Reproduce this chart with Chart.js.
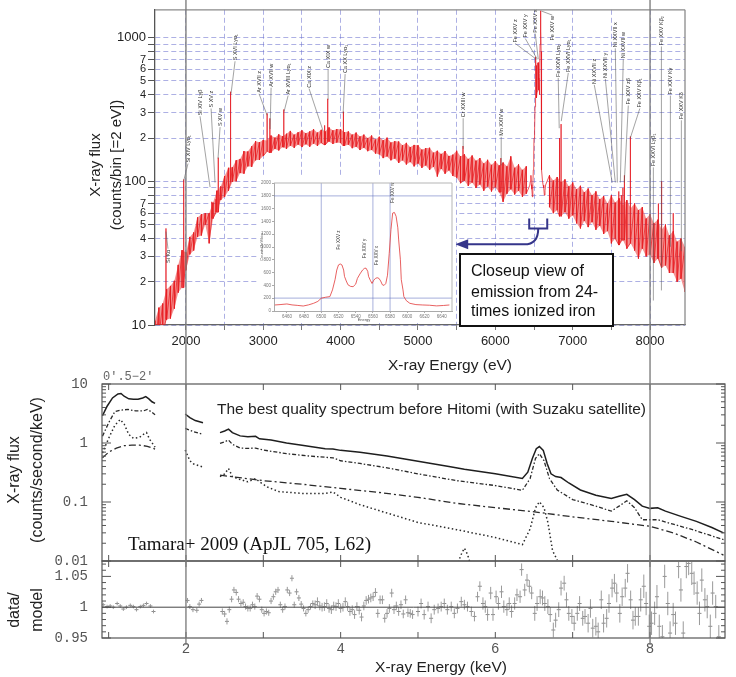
<!DOCTYPE html>
<html>
<head>
<meta charset="utf-8">
<script src="https://cdn.jsdelivr.net/npm/chart.js@4.4.0/dist/chart.umd.min.js"></script>
<style>
  html, body { margin: 0; padding: 0; background: #fff; }
  #wrap { position: relative; width: 736px; height: 677px; overflow: hidden; background: #fff; }
  #wrap canvas { position: absolute; left: 0; top: 0; }
</style>
</head>
<body>
<div id="wrap">
  <canvas id="cMid" width="736" height="677" style="z-index:1"></canvas>
  <canvas id="cRes" width="736" height="677" style="z-index:1"></canvas>
  <canvas id="cTop" width="736" height="677" style="z-index:2"></canvas>
  <canvas id="cInset" width="736" height="677" style="z-index:3"></canvas>
</div>
<script>
// ---------------- Hitomi SXS spectrum (counts per 2 eV bin) ----------------
// Continuum band sampled every 50 eV: upper and lower edge of the noisy band
const bandEnergy = [1600,1650,1700,1750,1800,1850,1900,1950,
  2000,2050,2100,2150,2200,2250,2300,2350,2400,2450,2500,2550,2600,2650,2700,2750,2800,2850,2900,2950,
  3000,3050,3100,3150,3200,3250,3300,3350,3400,3450,3500,3550,3600,3650,3700,3750,3800,3850,3900,3950,
  4000,4050,4100,4150,4200,4250,4300,4350,4400,4450,4500,4550,4600,4650,4700,4750,4800,4850,4900,4950,
  5000,5050,5100,5150,5200,5250,5300,5350,5400,5450,5500,5550,5600,5650,5700,5750,5800,5850,5900,5950,
  6000,6050,6100,6150,6200,6250,6300,6350,6400,
  6700,6750,6800,6850,6900,6950,7000,7050,7100,7150,7200,7250,7300,7350,7400,7450,
  7500,7550,7600,7650,7700,7750,7800,7850,7900,7950,8000,8050,8100,8150,8200,8250,8300,8350,8400,8450];
const bandUpper = [10.7,13.2,14.1,17.7,18.7,20.3,26.2,33.2,
  32,41,44,56,59,60,60,71,86,92,109,124,125,140,143,162,161,175,190,187,
  194,192,208,201,212,206,214,224,211,219,226,216,222,230,218,228,222,237,226,231,
  230,219,222,211,218,205,211,200,208,195,204,193,201,186,190,189,178,185,173,179,
  178,166,170,171,158,163,155,162,150,153,163,149,154,143,151,139,145,133,141,130,
  138,129,135,127,149,124,131,120,127,
  110,101,107,99,103,92,98,88,93,84,89,80,85,75,79,70,
  80,71,76,68,74,65,70,63,66,55,59,51,54,46,50,42,45,38,40,35];
const bandLower = [6.4,8.3,8.7,10.9,11.1,13,16.8,18.2,
  24,31,33,41,42,50,37,55,61,74,78,86,99,100,114,113,127,126,140,141,
  150,162,158,168,164,173,168,177,171,180,173,181,174,183,176,185,179,189,182,186,
  185,176,180,170,174,165,171,162,165,156,154,145,149,140,144,134,140,131,136,127,
  133,124,129,120,126,108,122,113,119,109,106,97,101,93,98,90,95,86,92,85,
  91,84,72,82,88,81,86,78,82,
  66,60,63,57,61,55,58,51,47,53,48,52,46,49,43,45,
  37,40,36,39,34,37,33,29,34,30,31,27,29,25,26,23,23,20,21,17];

// Narrow emission lines rising above the band (observed energy, eV)
const lineEnergy = [1742,1971,2334,2387,2418,2577,3049,3085,3265,3793,3833,4036,5582,6071,
  6830,6850,7596,7629,7649,7669,7742,8108,8149,8300];
const linePeak = [47,103,72,75,146,420,297,274,316,245,375,305,176,145,
  200,250,85,80,90,110,205,70,100,60];

// Fe XXV He-alpha complex, 2 eV bins (shown in the close-up and in the full spectrum)
const feEnergy = [6446,6452,6460,6466,6472,6479,6485,6491,6496,6500,6505,6510,6513,6516,6518,6520,6522,6524,6526,6527,
  6529,6531,6534,6537,6540,6542,6545,6548,6550,6552,6554,6555,6557,6559,6561,6563,6565,6567,6569,6571,
  6573,6575,6577,6579,6581,6583,6585,6587,6589,6590,6592,6593,6595,6596,6599,6603,6610,6618,6626,6634,6642,6649];
const feCounts = [94,100,110,95,88,78,95,120,150,200,215,225,330,490,640,720,735,720,640,540,
  470,410,385,380,420,510,580,640,665,670,620,540,480,430,480,510,520,510,470,410,
  400,430,560,900,1270,1530,1540,1480,1300,1110,800,490,330,225,160,120,100,94,90,80,86,94];

// Line identifications
const lineNames = ['Si K\u03b1','Si XIV Ly\u03b1\u2081','Si XIV Ly\u03b2','S XV z','S XV w','S XVI Ly\u03b1\u2081',
  'Ar XVII z','Ar XVII w','Ar XVIII Ly\u03b1\u2081','Ca XIX z','Ca XIX w','Ca XX Ly\u03b1\u2081',
  'Cr XXIII w','Mn XXIV w','Fe XXV z','Fe XXV y','Fe XXV x','Fe XXV w',
  'Fe XXVI Ly\u03b1\u2082','Fe XXVI Ly\u03b1\u2081','Ni XXVII z','Ni XXVII y','Ni XXVII x','Ni XXVII w',
  'Fe XXV z\u03b2','Fe XXV K\u03b2\u2081','Fe XXVI Ly\u03b2\u2081','Fe XXV K\u03b2\u2082','Fe XXV K\u03b3','Fe XXV K\u03b4'];

// Axis ticks
const energyTickValues = [2000,2500,3000,3500,4000,4500,5000,5500,6000,6500,7000,7500,8000];
const fluxTickValues = [10,20,30,40,50,60,70,80,90,100,200,300,400,500,600,700,800,900,1000];
const insetEnergyTicks = [6460,6480,6500,6520,6540,6560,6580,6600,6620,6640];
const insetCountTicks = [0,200,400,600,800,1000,1200,1400,1600,1800,2000];
const insetGuideEnergies = [6500,6560,6580];
const insetGuideCounts = [200,1800];
const insetLineNames = ['Fe XXV z','Fe XXV y','Fe XXV x','Fe XXV w'];
const insetLineEnergy = [6520,6550,6564,6583];

// ---------------- Suzaku XIS spectrum, 0.5'-2' region ----------------
const totalE = [0.92,0.98,1.05,1.12,1.16,1.2,1.26,1.32,1.38,1.44,1.48,1.52,1.56,1.6, 1.8,
  1.99,2.05,2.12,2.22, 2.3,
  2.44,2.5,2.55,2.6,2.7,2.8,2.9,2.95,3.1,3.3,3.5,3.8,3.9,4.0,4.25,4.6,5.0,5.4,5.6,6.0,
  6.35,6.42,6.48,6.53,6.57,6.62,6.67,6.72,6.78,6.85,6.95,7.1,7.3,7.5,7.6,7.7,7.8,7.9,8.0,8.1,
  8.2,8.4,8.6,8.8,8.95];
const totalFlux = [2.9,4.2,5.8,6.8,6.9,6.2,5.6,5.5,5.5,5.8,6.1,5.6,5.0,4.7, null,
  3.1,2.7,2.4,2.2, null,
  1.5,1.6,1.72,1.5,1.32,1.28,1.3,1.18,1.12,1.0,0.92,0.8,0.79,0.75,0.7,0.6,0.49,0.4,0.36,0.3,
  0.25,0.32,0.55,0.8,0.87,0.75,0.45,0.3,0.27,0.26,0.21,0.16,0.13,0.115,0.125,0.135,0.11,0.085,0.078,0.08,
  0.07,0.057,0.047,0.037,0.03];
const hotE = [0.92,1.0,1.08,1.15,1.25,1.35,1.45,1.5,1.55,1.6, 1.8,
  1.99,2.1,2.22, 2.3,
  2.44,2.5,2.55,2.6,2.7,2.8,2.9,3.0,3.3,3.6,3.9,4.0,4.25,4.6,5.0,5.5,6.0,6.35,6.45,6.52,
  6.57,6.63,6.7,6.8,7.0,7.3,7.5,7.6,7.7,7.8,7.9,8.0,8.1,8.3,8.55,8.95];
const hotFlux = [1.3,2.2,3.4,3.6,3.7,3.5,3.5,3.7,3.4,3.0, null,
  1.77,1.55,1.4, null,
  0.99,1.05,1.12,0.95,0.82,0.81,0.82,0.76,0.66,0.6,0.56,0.5,0.45,0.38,0.3,0.23,0.19,0.158,0.25,0.55,
  0.66,0.5,0.25,0.16,0.11,0.085,0.07,0.085,0.105,0.08,0.05,0.05,0.05,0.042,0.034,0.023];
const coolE = [0.92,1.0,1.08,1.15,1.2,1.26,1.32,1.4,1.45,1.49,1.53,1.6, 1.8,
  1.99,2.05,2.1,2.22, 2.3,
  2.44,2.5,2.55,2.6,2.7,2.8,2.9,2.95,3.05,3.2,3.5,3.8,3.9,4.0,4.25,4.6,5.0,5.5,6.0,6.35,
  6.45,6.52,6.57,6.63,6.68,6.74,6.8];
const coolFlux = [0.68,1.2,2.0,2.5,2.1,1.4,1.2,1.25,1.4,1.5,1.15,0.85, null,
  0.76,0.5,0.44,0.39, null,
  0.27,0.3,0.37,0.27,0.24,0.22,0.25,0.22,0.18,0.15,0.14,0.14,0.148,0.12,0.09,0.065,0.045,0.034,0.025,0.019,
  0.035,0.08,0.101,0.08,0.045,0.015,0.0104];
const powE = [0.92,1.0,1.1,1.2,1.3,1.4,1.5,1.6, 2.0,
  2.44,3.0,3.5,4.0,4.5,5.0,5.5,6.0,6.47,7.0,7.5,8.0,8.3,8.6,8.95];
const powFlux = [0.56,0.7,0.82,0.9,0.92,0.92,0.88,0.79, null,
  0.285,0.23,0.2,0.17,0.145,0.12,0.095,0.08,0.069,0.056,0.047,0.0387,0.03,0.021,0.0126];
const crE = [5.52,5.56,5.6,5.64,5.67];
const crFlux = [0.0095,0.013,0.0165,0.013,0.0095];

// data/model residuals
const resE = [0.93,0.98,1.02,1.06,1.11,1.15,1.19,1.23,1.28,1.32,1.36,1.41,1.45,1.49,1.54,1.58,
  2.02,2.05,2.09,2.14,2.17,2.20,
  2.47,2.50,2.53,2.56,2.59,2.62,2.65,2.68,2.71,2.74,2.77,2.80,2.83,2.86,2.89,2.92,2.95,2.98,3.01,3.04,
  3.07,3.10,3.13,3.16,3.19,3.22,3.25,3.28,3.31,3.34,3.37,3.40,3.43,3.46,3.49,3.52,3.55,3.58,3.61,3.64,
  3.67,3.70,3.73,3.76,3.79,3.82,3.85,3.88,3.91,3.94,3.97,4.00,4.03,4.06,4.09,4.12,4.15,4.18,4.21,4.24,
  4.27,4.30,4.33,4.36,4.39,4.42,4.45,4.48,4.51,4.54,4.57,4.60,4.63,4.66,4.69,4.72,4.75,4.78,4.81,4.84,
  4.87,4.90,4.93,
  5.00,5.04,5.08,5.13,5.17,5.21,5.26,5.30,5.34,5.38,5.43,5.47,5.51,5.56,5.60,5.64,5.69,5.73,5.77,5.80,
  5.84,5.87,5.90,5.94,5.97,6.01,6.04,6.08,6.11,6.15,6.18,6.21,6.25,6.28,6.32,6.34,6.38,6.41,6.44,6.47,
  6.51,6.54,6.58,6.61,6.64,6.68,6.71,6.75,6.78,6.82,6.85,6.89,6.92,6.95,6.99,7.02,7.06,7.09,7.13,7.16,
  7.20,7.23,7.26,7.30,7.33,7.37,7.40,7.44,7.47,7.51,7.54,7.57,7.61,7.64,7.68,7.71,7.75,7.78,7.81,7.85,
  7.88,7.92,7.95,7.99,8.02,8.06,8.09,8.12,8.16,8.19,8.23,8.26,8.30,8.33,8.37,8.40,8.43,8.47,8.50,8.54,
  8.57,8.61,8.64,8.67,8.71,8.74,8.78,8.81,8.85,8.89];
const resRatio = [1.004,1.001,1.002,1.000,1.006,1.002,0.997,1.000,1.003,1.001,0.996,1.001,1.003,1.006,1.002,0.993,
  1.011,1.001,0.996,0.995,1.005,1.011,
  0.993,0.989,0.977,0.996,1.013,1.028,1.024,1.013,1.006,1.008,1.001,0.998,0.998,1.004,1.001,1.018,1.013,0.996,0.990,0.993,
  0.991,1.010,1.017,1.025,1.028,1.004,0.996,1.001,1.028,1.023,1.047,1.004,1.025,1.015,1.005,0.998,0.990,0.996,1.001,1.006,
  1.004,1.009,1.002,1.000,1.001,1.006,0.998,0.996,1.002,1.001,1.006,0.998,1.000,1.009,1.001,0.993,0.996,0.988,1.001,0.995,
  0.984,1.002,1.011,1.013,1.015,1.017,1.024,0.990,1.012,1.012,0.982,0.990,0.998,1.023,0.996,1.002,0.993,1.004,0.989,1.012,
  0.991,0.990,0.988,
  0.993,1.006,0.988,1.001,0.982,0.996,0.998,1.001,1.006,0.996,1.001,0.990,0.998,1.009,1.004,1.001,0.993,0.985,1.017,1.034,
  1.006,1.001,0.988,1.023,0.988,1.017,1.006,1.025,1.001,0.996,1.006,0.993,1.006,1.020,1.017,1.061,1.028,1.044,1.034,1.023,
  0.990,1.006,1.017,1.015,1.006,1.001,0.988,0.963,0.979,0.996,1.031,1.039,1.012,0.990,0.985,0.974,0.990,1.006,0.982,0.985,
  0.974,0.998,0.966,0.969,0.960,1.012,0.974,0.982,1.006,1.031,1.039,1.023,0.990,1.017,1.031,1.055,1.012,0.979,0.985,0.985,
  1.012,1.034,1.006,0.969,0.974,0.990,1.017,0.969,0.952,1.050,1.006,0.958,0.988,0.974,1.066,1.028,0.958,1.066,1.071,1.055,
  1.039,1.023,0.990,1.044,1.012,1.001,0.969,1.023,1.001,0.952];
const resErr = [0.003,0.003,0.003,0.003,0.003,0.003,0.003,0.003,0.003,0.003,0.003,0.003,0.003,0.003,0.003,0.003,
  0.004,0.004,0.004,0.004,0.004,0.004,
  0.005,0.005,0.005,0.005,0.005,0.005,0.005,0.005,0.005,0.005,0.005,0.005,0.005,0.005,0.005,0.005,0.005,0.005,0.005,0.005,
  0.005,0.005,0.005,0.005,0.005,0.005,0.005,0.005,0.005,0.005,0.005,0.005,0.005,0.005,0.005,0.005,0.005,0.005,0.005,0.005,
  0.007,0.007,0.007,0.007,0.007,0.007,0.007,0.007,0.007,0.007,0.007,0.007,0.007,0.007,0.007,0.007,0.007,0.007,0.007,0.007,
  0.007,0.007,0.007,0.007,0.007,0.007,0.007,0.007,0.007,0.007,0.007,0.007,0.007,0.007,0.007,0.007,0.007,0.007,0.007,0.007,
  0.007,0.007,0.007,
  0.008,0.008,0.008,0.008,0.008,0.008,0.008,0.008,0.008,0.008,0.008,0.008,0.008,0.008,0.008,0.008,0.008,0.008,0.008,0.008,
  0.010,0.010,0.010,0.010,0.010,0.010,0.010,0.010,0.010,0.010,0.010,0.010,0.010,0.010,0.010,0.010,0.010,0.010,0.010,0.010,
  0.012,0.012,0.012,0.012,0.012,0.012,0.012,0.012,0.012,0.012,0.012,0.012,0.012,0.012,0.012,0.012,0.012,0.012,0.012,0.012,
  0.015,0.015,0.015,0.015,0.015,0.015,0.015,0.015,0.015,0.015,0.015,0.015,0.015,0.015,0.015,0.015,0.015,0.015,0.015,0.015,
  0.019,0.019,0.019,0.019,0.019,0.019,0.019,0.019,0.019,0.019,0.019,0.019,0.019,0.019,0.019,0.019,0.019,0.019,0.019,0.019,
  0.019,0.019,0.019,0.019,0.019,0.019,0.019,0.019,0.019,0.019];

const keVTicks = [1,2,3,4,5,6,7,8];
const keVLabelTicks = [2,4,6,8];
const suzakuFluxTicks = [0.01,0.1,1,10];
const suzakuMinorTicks = [0.02,0.03,0.04,0.05,0.06,0.07,0.08,0.09,0.2,0.3,0.4,0.5,0.6,0.7,0.8,0.9,2,3,4,5,6,7,8,9];
const ratioTicks = [0.95,1,1.05];
const ratioMinorTicks = [0.96,0.97,0.98,0.99,1.01,1.02,1.03,1.04,1.06,1.07];

// ---------------- annotation placement (data units) ----------------
// [name index, label foot energy, label foot flux, pointer energy, pointer flux]
const labelPlacement = [
  [0,1768,27,1742,44.7],[1,2027,135,1971,101],[2,2182,288,2312,91],[3,2325,326,2376,98],
  [4,2441,242,2415,144],[5,2635,695,2583,407],[6,2945,413,3049,288],[7,3101,455,3088,231],
  [8,3321,401,3269,306],[9,3592,448,3773,224],[10,3838,614,3838,370],[11,4058,566,4032,297],
  [12,5584,279,5584,168],[13,6076,207,6076,129],[14,6257,924,6529,707],[15,6387,1000,6542,707],
  [16,6516,1082,6555,707],[17,6736,953,6594,1531],[18,6813,532,6826,234],[19,6943,576,6852,262],
  [20,7279,476,7512,98],[21,7422,524,7551,98],[22,7551,855,7577,98],[23,7654,718,7616,98],
  [24,7719,342,7667,98],[25,7868,326,7745,200],[26,8043,127,8043,14.8],[27,8147,881,8147,17.4],
  [28,8263,401,8263,35],[29,8405,270,8405,32.6]];
const closeupPointer = { from: 6438, to: 6671, top: 55, bottom: 47, arrowFlux: 36.4, arrowTip: 5481 };
const insetLabelFoot = [960, 830, 720, 1690];

Chart.defaults.font.family = '"Liberation Sans", Arial, sans-serif';
Chart.defaults.color = '#222';

const SANS = '"Liberation Sans", Arial, sans-serif';
const MONO = '"Liberation Mono", "DejaVu Sans Mono", monospace';
const pairs = (xs, ys) => xs.map((x, i) => ({ x: x, y: ys[i] }));
const fixTicks = vals => (s => { s.ticks = vals.map(v => ({ value: v })); });
// break a sampled band where the sampling skips a stretch (the Fe complex is drawn separately)
const withGaps = pts => {
  const out = [];
  pts.forEach((p, i) => {
    if (i > 0 && p.x - pts[i - 1].x > 60) out.push({ x: (p.x + pts[i - 1].x) / 2, y: null });
    out.push(p);
  });
  return out;
};

function drawTexts(ctx, items) {
  items.forEach(it => {
    ctx.save();
    ctx.font = it.font;
    ctx.fillStyle = it.color || '#222';
    ctx.textAlign = it.align || 'center';
    ctx.textBaseline = it.baseline || 'middle';
    ctx.translate(it.x, it.y);
    if (it.rot) ctx.rotate(it.rot * Math.PI / 180);
    ctx.fillText(it.text, 0, 0);
    ctx.restore();
  });
}
function seg(ctx, x0, y0, x1, y1) { ctx.beginPath(); ctx.moveTo(x0, y0); ctx.lineTo(x1, y1); ctx.stroke(); }

// ---------------- full Hitomi spectrum ----------------
const nearestBand = e => {
  let best = 0;
  bandEnergy.forEach((b, i) => { if (Math.abs(b - e) < Math.abs(bandEnergy[best] - e)) best = i; });
  return best;
};
const spectrumPoints = [];
bandEnergy.forEach((e, i) => { spectrumPoints.push({ x: e, y: bandUpper[i] }, { x: e, y: bandLower[i] }); });
feEnergy.forEach((e, i) => spectrumPoints.push({ x: e, y: feCounts[i] }));
lineEnergy.forEach((e, i) => {
  const base = bandLower[nearestBand(e)];
  spectrumPoints.push({ x: e, y: base }, { x: e, y: linePeak[i] }, { x: e, y: base });
});
spectrumPoints.sort((a, b) => a.x - b.x);

const topDecor = {
  id: 'topDecor',
  afterDatasetsDraw(chart) {
    const { ctx, chartArea: a, scales: { x, y } } = chart;
    // line identifications with leader lines
    ctx.save();
    ctx.font = '5.5px ' + SANS;
    labelPlacement.forEach(p => {
      const name = lineNames[p[0]];
      const px = x.getPixelForValue(p[1]), py = y.getPixelForValue(p[2]);
      const tx = x.getPixelForValue(p[3]), ty = y.getPixelForValue(p[4]);
      const w = ctx.measureText(name).width;
      ctx.strokeStyle = 'rgba(90,90,90,0.8)';
      ctx.lineWidth = 0.7;
      if (ty > py) seg(ctx, px, py + 1, tx, ty);
      else seg(ctx, px, py - w - 1, tx, ty);
      ctx.save();
      ctx.translate(px, py);
      ctx.rotate(-Math.PI / 2);
      ctx.fillStyle = '#333';
      ctx.textAlign = 'left';
      ctx.textBaseline = 'middle';
      ctx.fillText(name, 0, 0);
      ctx.restore();
    });
    ctx.restore();

    // bracket over the Fe complex with an arrow pointing to the close-up
    const c = closeupPointer;
    const bx0 = x.getPixelForValue(c.from), bx1 = x.getPixelForValue(c.to), bxm = (bx0 + bx1) / 2;
    const byT = y.getPixelForValue(c.top), byB = y.getPixelForValue(c.bottom);
    const ay = y.getPixelForValue(c.arrowFlux), ax = x.getPixelForValue(c.arrowTip);
    ctx.save();
    ctx.strokeStyle = '#35358a';
    ctx.fillStyle = '#35358a';
    ctx.lineWidth = 2;
    ctx.beginPath();
    ctx.moveTo(bx0, byT); ctx.lineTo(bx0, byB); ctx.lineTo(bx1, byB); ctx.lineTo(bx1, byT);
    ctx.moveTo(bxm, byB);
    ctx.quadraticCurveTo(bxm, ay, bxm - 14, ay);
    ctx.lineTo(ax + 10, ay);
    ctx.stroke();
    ctx.beginPath();
    ctx.moveTo(ax, ay); ctx.lineTo(ax + 13, ay - 5); ctx.lineTo(ax + 13, ay + 5); ctx.closePath();
    ctx.fill();
    ctx.restore();

    // caption box
    ctx.save();
    ctx.fillStyle = '#fff';
    ctx.fillRect(460, 254, 153, 72);
    ctx.strokeStyle = '#111';
    ctx.lineWidth = 2;
    ctx.strokeRect(460, 254, 153, 72);
    ctx.restore();
    drawTexts(ctx, [
      { text: 'Closeup view of', x: 471, y: 276, align: 'left', baseline: 'alphabetic', font: '16px ' + SANS, color: '#111' },
      { text: 'emission from 24-', x: 471, y: 297, align: 'left', baseline: 'alphabetic', font: '16px ' + SANS, color: '#111' },
      { text: 'times ionized iron', x: 471, y: 316, align: 'left', baseline: 'alphabetic', font: '16px ' + SANS, color: '#111' }
    ]);
  },
  afterDraw(chart) {
    const { ctx, chartArea: a, scales: { x } } = chart;
    ctx.save();
    // top and right frame
    ctx.strokeStyle = '#8a8a8a';
    ctx.lineWidth = 1.3;
    seg(ctx, a.left, a.top, a.right, a.top);
    seg(ctx, a.right, a.top, a.right, a.bottom);
    // shared 2 keV / 8 keV guide lines running through every panel
    ctx.strokeStyle = 'rgba(125,125,125,0.85)';
    ctx.lineWidth = 1.6;
    [2000, 8000].forEach(v => { const px = x.getPixelForValue(v); seg(ctx, px, 0, px, 645); });
    ctx.restore();
    drawTexts(ctx, [
      { text: 'X-ray flux', x: 96, y: 165, rot: -90, font: '15px ' + SANS },
      { text: '(counts/bin [=2 eV])', x: 117, y: 165, rot: -90, font: '15px ' + SANS },
      { text: 'X-ray Energy (eV)', x: 450, y: 366, font: '15.5px ' + SANS }
    ]);
  }
};

const decadeOf = v => Math.pow(10, Math.floor(Math.log10(v) + 1e-9));
new Chart(document.getElementById('cTop'), {
  type: 'line',
  data: {
    datasets: [
      { data: withGaps(pairs(bandEnergy, bandUpper)), borderWidth: 0, borderColor: 'rgba(0,0,0,0)', pointRadius: 0, fill: false },
      { data: withGaps(pairs(bandEnergy, bandLower)), borderWidth: 0, borderColor: 'rgba(0,0,0,0)', pointRadius: 0, fill: '-1',
        backgroundColor: 'rgba(234,40,40,0.5)' },
      { data: spectrumPoints, borderColor: 'rgba(228,18,26,0.9)', borderWidth: 0.8, pointRadius: 0, fill: false, tension: 0 }
    ]
  },
  options: {
    responsive: false, animation: false, events: [], devicePixelRatio: 1,
    layout: { padding: { left: 85, right: 51, top: 5, bottom: 322 } },
    plugins: { legend: { display: false }, tooltip: { enabled: false } },
    scales: {
      x: {
        type: 'linear', min: 1600, max: 8452,
        afterBuildTicks: fixTicks(energyTickValues),
        afterFit: s => { s.height = 30; },
        ticks: { autoSkip: false, maxRotation: 0, padding: 4, color: '#222', font: { size: 13 },
          callback: v => (v % 1000 === 0 ? String(v) : '') },
        grid: { color: 'rgba(105,112,205,0.55)', lineWidth: 1, tickLength: 5, tickColor: '#777' },
        border: { color: '#666', width: 1.2, dash: [5, 3] }
      },
      y: {
        type: 'logarithmic', min: 10, max: 1560,
        afterBuildTicks: fixTicks(fluxTickValues),
        afterFit: s => { s.width = 70; },
        ticks: { autoSkip: false, padding: 2, color: '#222',
          font: c => ({ size: (c.tick && Math.round(c.tick.value / decadeOf(c.tick.value)) === 1) ? 13 : 11 }),
          callback: v => { const m = Math.round(v / decadeOf(v)); return m === 1 ? String(v) : (m <= 7 ? String(m) : ''); } },
        grid: { color: 'rgba(105,112,205,0.55)', lineWidth: 1, tickLength: 7, tickColor: '#555' },
        border: { color: '#555', width: 1.3, dash: [5, 3] }
      }
    }
  },
  plugins: [topDecor]
});

// ---------------- Fe XXV close-up ----------------
const insetDecor = {
  id: 'insetDecor',
  beforeDraw(chart) {
    const ctx = chart.ctx;
    ctx.save();
    ctx.fillStyle = '#fff';
    ctx.fillRect(258, 177, 198, 146);
    ctx.restore();
  },
  beforeDatasetsDraw(chart) {
    const { ctx, chartArea: a, scales: { x, y } } = chart;
    ctx.save();
    ctx.strokeStyle = 'rgba(95,110,190,0.45)';
    ctx.lineWidth = 1.2;
    insetGuideEnergies.forEach(v => { const px = x.getPixelForValue(v); seg(ctx, px, a.top, px, a.bottom); });
    insetGuideCounts.forEach(v => { const py = y.getPixelForValue(v); seg(ctx, a.left, py, a.right, py); });
    ctx.restore();
  },
  afterDatasetsDraw(chart) {
    const { ctx, chartArea: a, scales: { x, y } } = chart;
    ctx.save();
    ctx.strokeStyle = '#b5b5b5';
    ctx.lineWidth = 1;
    seg(ctx, a.right, a.top, a.right, a.bottom);
    seg(ctx, a.left, a.top, a.right, a.top);
    ctx.restore();
    drawTexts(ctx, insetLineNames.map((n, i) => ({
      text: n, x: x.getPixelForValue(insetLineEnergy[i]), y: y.getPixelForValue(insetLabelFoot[i]),
      rot: -90, align: 'left', font: '4.5px ' + SANS, color: '#333'
    })).concat([
      { text: 'Counts/2eV/bin', x: 262, y: 247, rot: -90, font: '4px ' + SANS, color: '#555' },
      { text: 'Energy', x: 364, y: 320, font: '4px ' + SANS, color: '#555' }
    ]));
  }
};
new Chart(document.getElementById('cInset'), {
  type: 'line',
  data: { datasets: [{ data: pairs(feEnergy, feCounts), borderColor: 'rgba(226,60,60,0.9)', borderWidth: 0.9, pointRadius: 0 }] },
  options: {
    responsive: false, animation: false, events: [], devicePixelRatio: 1,
    layout: { padding: { left: 260, right: 284, top: 183, bottom: 354 } },
    plugins: { legend: { display: false }, tooltip: { enabled: false } },
    scales: {
      x: {
        type: 'linear', min: 6445, max: 6652,
        afterBuildTicks: fixTicks(insetEnergyTicks),
        afterFit: s => { s.height = 12; },
        ticks: { autoSkip: false, maxRotation: 0, padding: 1, color: '#777', font: { size: 4.5 }, callback: v => String(v) },
        grid: { drawOnChartArea: false, tickLength: 2, color: '#aaa' },
        border: { color: '#aaa' }
      },
      y: {
        type: 'linear', min: 0, max: 2000,
        afterBuildTicks: fixTicks(insetCountTicks),
        afterFit: s => { s.width = 14; },
        ticks: { autoSkip: false, padding: 1, color: '#777', font: { size: 4.5 }, callback: v => String(v) },
        grid: { drawOnChartArea: false, tickLength: 2, color: '#aaa' },
        border: { color: '#aaa' }
      }
    }
  },
  plugins: [insetDecor]
});

// ---------------- Suzaku panels ----------------
function frameTicks(opts) {
  return {
    id: 'frameTicks',
    afterDraw(chart) {
      const { ctx, chartArea: a, scales: { x, y } } = chart;
      ctx.save();
      ctx.strokeStyle = '#555';
      ctx.lineWidth = 1.2;
      ctx.strokeRect(a.left, a.top, a.right - a.left, a.bottom - a.top);
      ctx.lineWidth = 1;
      keVTicks.forEach(v => {
        const px = x.getPixelForValue(v);
        seg(ctx, px, a.top, px, a.top + 6);
        seg(ctx, px, a.bottom, px, a.bottom - 6);
      });
      opts.yMajor.forEach(v => {
        const py = y.getPixelForValue(v);
        seg(ctx, a.left, py, a.left + 9, py);
        seg(ctx, a.right, py, a.right - 9, py);
      });
      opts.yMinor.forEach(v => {
        const py = y.getPixelForValue(v);
        seg(ctx, a.left, py, a.left + 4, py);
        seg(ctx, a.right, py, a.right - 4, py);
      });
      if (opts.unity) {
        const py = y.getPixelForValue(1);
        ctx.strokeStyle = '#444';
        seg(ctx, a.left, py, a.right, py);
      }
      ctx.restore();
      drawTexts(ctx, opts.texts);
    }
  };
}
const monoTicks = { autoSkip: false, padding: 14, color: '#555', font: { family: MONO, size: 14 } };

new Chart(document.getElementById('cMid'), {
  type: 'line',
  data: {
    datasets: [
      { data: pairs(totalE, totalFlux), borderColor: '#1e1e1e', borderWidth: 1.5, pointRadius: 0 },
      { data: pairs(hotE, hotFlux), borderColor: '#2a2a2a', borderWidth: 1.3, pointRadius: 0, borderDash: [4, 2, 1.5, 2] },
      { data: pairs(coolE, coolFlux), borderColor: '#2a2a2a', borderWidth: 1.5, pointRadius: 0, borderDash: [1.5, 2.5] },
      { data: pairs(powE, powFlux), borderColor: '#2a2a2a', borderWidth: 1.3, pointRadius: 0, borderDash: [7, 3, 2, 3] },
      { data: pairs(crE, crFlux), borderColor: '#2a2a2a', borderWidth: 1.5, pointRadius: 0, borderDash: [1.5, 2.5] }
    ]
  },
  options: {
    responsive: false, animation: false, events: [], devicePixelRatio: 1,
    layout: { padding: { left: 3, right: 11, top: 384, bottom: 116 } },
    plugins: { legend: { display: false }, tooltip: { enabled: false } },
    scales: {
      x: { type: 'linear', min: 0.914, max: 8.97, display: false },
      y: {
        type: 'logarithmic', min: 0.01, max: 10,
        afterBuildTicks: fixTicks(suzakuFluxTicks),
        afterFit: s => { s.width = 99; },
        ticks: Object.assign({}, monoTicks, { callback: v => String(v) }),
        grid: { display: false, drawTicks: false },
        border: { display: false }
      }
    }
  },
  plugins: [frameTicks({
    yMajor: suzakuFluxTicks, yMinor: suzakuMinorTicks, unity: false,
    texts: [
      { text: 'X-ray flux', x: 15, y: 470, rot: -90, font: '16px ' + SANS },
      { text: '(counts/second/keV)', x: 38, y: 470, rot: -90, font: '16px ' + SANS },
      { text: '0\u2032.5\u22122\u2032', x: 103, y: 377, align: 'left', font: '12px ' + MONO, color: '#666' },
      { text: 'The best quality spectrum before Hitomi (with Suzaku satellite)', x: 217, y: 410, align: 'left', font: '15.5px ' + SANS },
      { text: 'Tamara+ 2009 (ApJL 705, L62)', x: 128, y: 550, align: 'left', baseline: 'alphabetic', font: '19px "Liberation Serif", "Times New Roman", serif', color: '#111' }
    ]
  })]
});

const errorBars = [];
resE.forEach((e, i) => {
  errorBars.push({ x: e, y: resRatio[i] - resErr[i] }, { x: e, y: resRatio[i] + resErr[i] }, { x: e, y: null });
});
new Chart(document.getElementById('cRes'), {
  type: 'line',
  data: {
    datasets: [
      { data: errorBars, borderColor: '#9a9a9a', borderWidth: 1, pointRadius: 0, spanGaps: false },
      { data: pairs(resE, resRatio), showLine: false, pointStyle: 'line', pointRadius: 2, borderColor: '#8a8a8a', borderWidth: 1 }
    ]
  },
  options: {
    responsive: false, animation: false, events: [], devicePixelRatio: 1,
    layout: { padding: { left: 3, right: 11, top: 561, bottom: 19 } },
    plugins: { legend: { display: false }, tooltip: { enabled: false } },
    scales: {
      x: {
        type: 'linear', min: 0.914, max: 8.97,
        afterBuildTicks: fixTicks(keVLabelTicks),
        afterFit: s => { s.height = 20; },
        ticks: Object.assign({}, monoTicks, { padding: 3, maxRotation: 0 }),
        grid: { display: false, drawTicks: false },
        border: { display: false }
      },
      y: {
        type: 'linear', min: 0.95, max: 1.075,
        afterBuildTicks: fixTicks(ratioTicks),
        afterFit: s => { s.width = 99; },
        ticks: Object.assign({}, monoTicks, { callback: v => String(v) }),
        grid: { display: false, drawTicks: false },
        border: { display: false }
      }
    }
  },
  plugins: [frameTicks({
    yMajor: ratioTicks, yMinor: ratioMinorTicks, unity: true,
    texts: [
      { text: 'data/', x: 15, y: 610, rot: -90, font: '16px ' + SANS },
      { text: 'model', x: 38, y: 610, rot: -90, font: '16px ' + SANS },
      { text: 'X-ray Energy (keV)', x: 441, y: 668, font: '15.5px ' + SANS }
    ]
  })]
});
</script>
</body>
</html>
